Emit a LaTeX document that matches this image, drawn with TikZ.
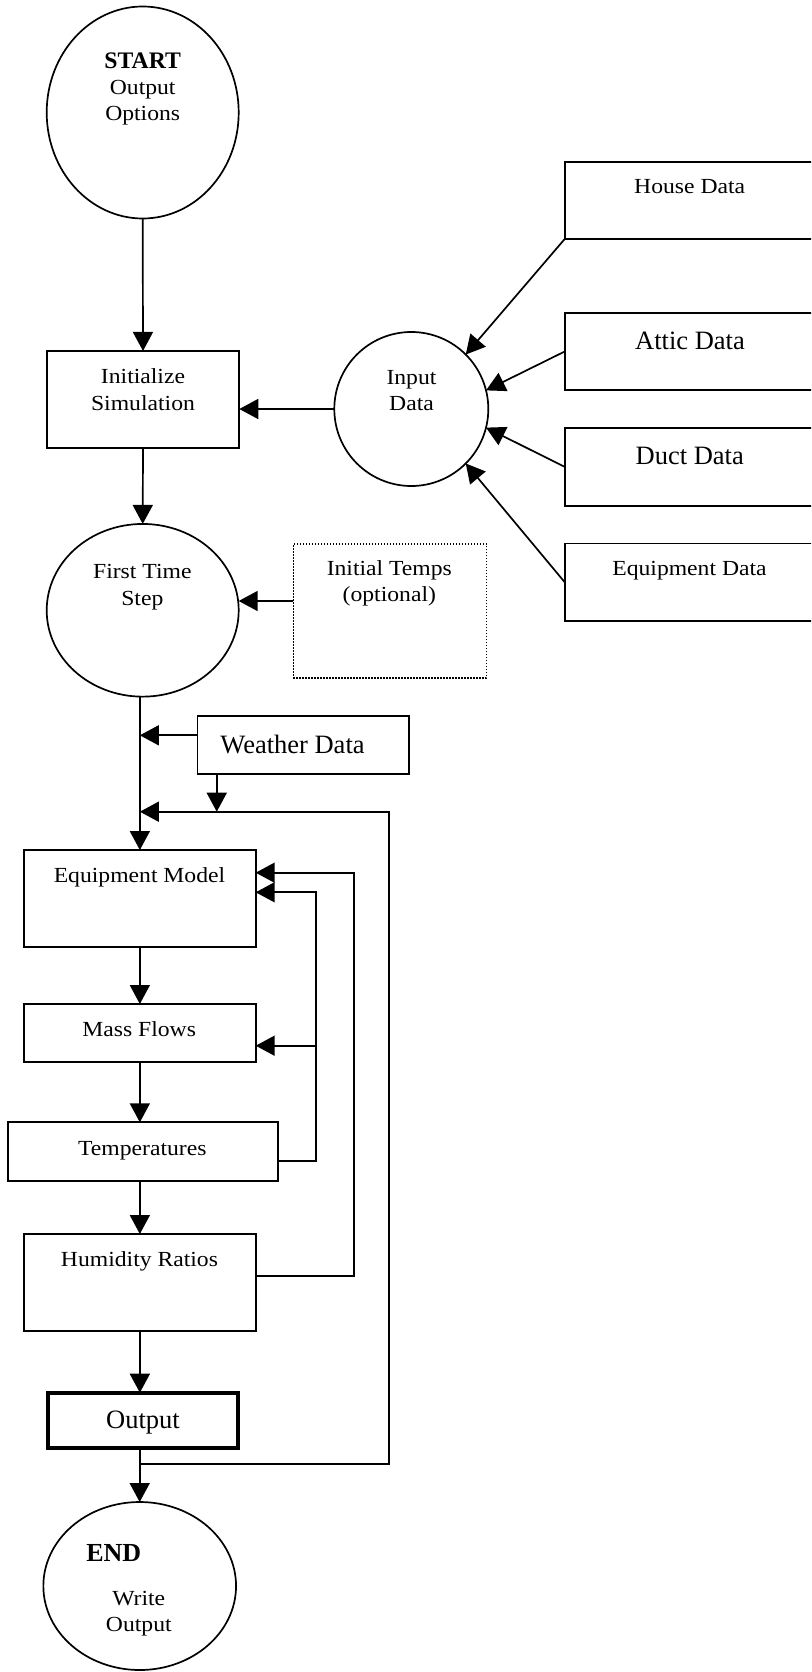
\documentclass[tikz,border=0pt]{standalone}
\usepackage{fontspec}
\setmainfont{Liberation Serif}
\newfontfamily\palf[FakeStretch=1.1]{Liberation Serif}
\usetikzlibrary{arrows.meta,shapes.geometric}
\tikzset{
  ln/.style={line width=1.7pt},
  arr/.style={ln, -{Triangle[length=19pt,width=20pt]}},
  boxs/.style={draw, ln, rectangle, inner sep=0pt, outer sep=0pt},
  ell/.style={draw, ln, ellipse, inner sep=0pt, outer sep=0pt},
  pt/.style={anchor=base, font=\palf\fontsize{21.5}{26}\selectfont, inner sep=0pt},
  tt/.style={anchor=base, font=\fontsize{26.5}{32}\selectfont, inner sep=0pt},
  bt/.style={anchor=base, font=\bfseries\fontsize{23.7}{28}\selectfont, inner sep=0pt},
}
\begin{document}
\begin{tikzpicture}[x=1pt,y=-1pt]
\useasboundingbox (0,0) rectangle (811,1672);
\clip (0,0) rectangle (811,1672);
% shapes
\node[ell, minimum width=192pt, minimum height=212pt] (start) at (142.7,112.5) {};
\node[boxs, minimum width=192.6pt, minimum height=96.7pt] (init) at (143,399.3) {};
\node[ell, minimum width=154pt, minimum height=154pt] (input) at (411.3,409) {};
\node[boxs, minimum width=275.3pt, minimum height=77pt] (house) at (702.35,200.5) {};
\node[boxs, minimum width=275.3pt, minimum height=77pt] (attic) at (702.35,351.5) {};
\node[boxs, minimum width=275.3pt, minimum height=77.7pt] (duct) at (702.35,466.85) {};
\node[boxs, minimum width=275.3pt, minimum height=77.7pt] (equip) at (702.35,582.2) {};
\node[ell, minimum width=192pt, minimum height=172.7pt] (fts) at (142.7,610.3) {};
\node[boxs, line width=1.5pt, dash pattern=on 1.5pt off 1.5pt, minimum width=193.4pt, minimum height=134pt] (temps) at (390,611) {};
\node[boxs, minimum width=211.7pt, minimum height=58pt] (weather) at (303.2,745) {};
\node[boxs, minimum width=231.7pt, minimum height=97pt] (eqm) at (139.85,898.5) {};
\node[boxs, minimum width=231.7pt, minimum height=58.3pt] (mass) at (139.85,1033.15) {};
\node[boxs, minimum width=269.7pt, minimum height=58.4pt] (tmp) at (142.85,1151.5) {};
\node[boxs, minimum width=231.7pt, minimum height=97pt] (hum) at (139.85,1282.5) {};
\node[boxs, line width=4pt, minimum width=190pt, minimum height=55.3pt] (out) at (143,1420.35) {};
\node[ell, minimum width=192.7pt, minimum height=168pt] (endn) at (139.7,1586) {};
% texts
\node[bt] (tstart) at (142.7,69) {START};
\node[pt] (tstart2) at (142.7,94.5) {Output};
\node[pt] (tstart3) at (142.7,121) {Options};
\node[pt] (tinit1) at (143,383.3) {Initialize};
\node[pt] (tinit2) at (143,410) {Simulation};
\node[pt] (tinput1) at (411.5,384.3) {Input};
\node[pt] (tinput2) at (411.5,410) {Data};
\node[pt] (thouse) at (689.7,193.3) {House Data};
\node[tt] (tattic) at (690,349) {Attic Data};
\node[tt] (tduct) at (689.7,464.3) {Duct Data};
\node[pt] (tequip) at (689.5,575) {Equipment Data};
\node[pt] (tfts1) at (142.3,578.3) {First Time};
\node[pt] (tfts2) at (142.3,605) {Step};
\node[pt] (ttemps1) at (389.3,575) {Initial Temps};
\node[pt] (ttemps2) at (389.3,601) {(optional)};
\node[tt] (tweather) at (292.5,753.3) {Weather Data};
\node[pt] (teqm) at (139.5,882.7) {Equipment Model};
\node[pt] (tmass) at (139.2,1036) {Mass Flows};
\node[pt] (ttmp) at (142.3,1155) {Temperatures};
\node[pt] (thum) at (139.5,1266.7) {Humidity Ratios};
\node[tt] (tout) at (143,1428.3) {Output};
\node[bt, font=\bfseries\fontsize{26}{30}\selectfont] (tend) at (113.7,1561.7) {END};
\node[pt] (tend2) at (138.7,1605) {Write};
\node[pt] (tend3) at (138.8,1631.7) {Output};
% helper coordinates
\coordinate (looptr) at (389,811.7);
\coordinate (loopbr) at (389,1464.3);
\coordinate (fbA) at (354,1276);
\coordinate (fbB) at (354,872.7);
\coordinate (fcA) at (315.7,1160.7);
\coordinate (fcB) at (315.7,892.3);
\coordinate (fcM) at (315.7,1045.7);
% connectors
\draw[arr] (start.south) -- (init.north);
\draw[arr] (input.west) -- (input.west -| init.east);
\draw[arr] (house.south west) -- (input.45);
\draw[arr] (attic.west) -- (input.14);
\draw[arr] (duct.west) -- (input.-14);
\draw[arr] (equip.west) -- (input.-45);
\draw[arr] (init.south) -- (fts.north);
\draw[arr] ([yshift=10pt]temps.west) -- ([yshift=10pt]temps.west -| fts.east);
\draw[arr] (fts.south -| eqm.north) -- (eqm.north);
\draw[arr] ([yshift=9.7pt]weather.west) -- ([yshift=9.7pt]weather.west -| eqm.north);
\draw[arr] ([xshift=19.4pt]weather.south west) -- ([xshift=19.4pt]weather.south west |- looptr);
\draw[arr] (eqm.north |- loopbr) -- (loopbr) -- (looptr) -- (looptr -| eqm.north);
\draw[arr] (eqm.south) -- (mass.north);
\draw[arr] (mass.south) -- (mass.south |- tmp.north);
\draw[arr] (tmp.south -| hum.north) -- (hum.north);
\draw[arr] (hum.south) -- (hum.south |- out.north);
\draw[arr] (endn.north |- out.south) -- (endn.north);
\draw[arr] ([yshift=6.5pt]hum.east) -- (fbA) -- (fbB) -- (fbB -| eqm.east);
\draw[arr] ([yshift=-9.2pt]tmp.east) -- (fcA) -- (fcB) -- (fcB -| eqm.east);
\draw[arr] (fcM) -- (fcM -| mass.east);
\end{tikzpicture}
\end{document}
